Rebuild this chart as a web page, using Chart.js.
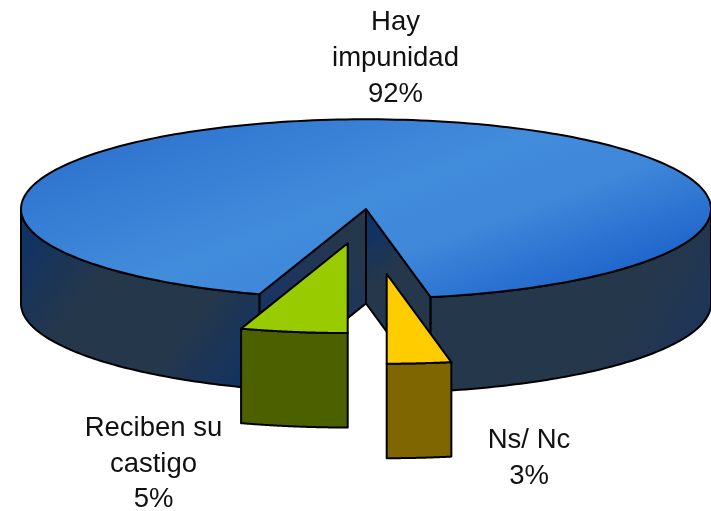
<!DOCTYPE html>
<html><head><meta charset="utf-8">
<style>html,body{margin:0;padding:0;background:#fff}canvas{display:block}</style>
<script src="https://cdn.jsdelivr.net/npm/chart.js@4"></script></head>
<body><canvas id="c" width="711" height="511"></canvas>
<script>
// Data
const categories = ['Hay impunidad', 'Ns/ Nc', 'Reciben su castigo'];
const values = [92, 3, 5];
const labelLines = [['Hay', 'impunidad', '92%'], ['Ns/ Nc', '3%'], ['Reciben su', 'castigo', '5%']];
// Styles and layout
const explodeX = [0, 20.7, -18.3];
const explodeY = [0, 250, 132];
const sideColors = [null, '#806600', '#4C6000'];
const topColors = [null, '#FFCC00', '#99CC00'];
const labelAnchors = [[395.5, 30, 36], [529, 448, 36], [153.5, 436, 35.5]];
const SQUASH = 0.26, CY = 209, DEPTH = 94.5, RADIUS = 345, LINE = 2;

const canvas = document.getElementById('c');
const g = canvas.getContext('2d');

function topGradient() {
  const slope = 0.37, H = 170, r = slope / SQUASH, s = H / (SQUASH * (r * r + 1));
  const mx = 366, my = 255.5 + (195 - CY) / SQUASH;
  const vx = s * r, vy = s;
  const gr = g.createLinearGradient(mx - vx, my - vy, mx + vx, my + vy);
  gr.addColorStop(0, '#2C71CD');
  gr.addColorStop(0.5, '#428CDC');
  gr.addColorStop(0.72, '#3E87D9');
  gr.addColorStop(1, '#2067CC');
  return gr;
}
function wallGradient(x1, y1, x2, y2, stops) {
  const gr = g.createLinearGradient(x1, y1, x2, y2);
  stops.forEach((c, i) => gr.addColorStop(i / (stops.length - 1), c));
  return gr;
}
const NAVY = '#0C3268', SLATE = '#25374B', MID = '#1B3560';

const threeD = {
  id: 'threeD',
  afterDatasetsUpdate(chart) {
    chart.getDatasetMeta(0).data.forEach((a, i) => { a.x += explodeX[i]; a.y += explodeY[i]; });
  },
  beforeDatasetsDraw(chart) {
    const ctx = chart.ctx, arcs = chart.getDatasetMeta(0).data;
    const cy0 = (chart.chartArea.top + chart.chartArea.bottom) / 2;
    const mapper = (a) => (ang, r) => [a.x + Math.cos(ang) * r, CY + (a.y - cy0 + Math.sin(ang) * r) * SQUASH];
    chart.$map = mapper;
    const side = (pts, fill) => {
      ctx.beginPath();
      pts.forEach((p, i) => i ? ctx.lineTo(p[0], p[1]) : ctx.moveTo(p[0], p[1]));
      ctx.closePath();
      ctx.fillStyle = fill; ctx.fill();
      ctx.strokeStyle = '#000'; ctx.lineWidth = LINE; ctx.lineJoin = 'round'; ctx.stroke();
    };
    const outerWall = (a, lo, hi, fill) => {
      const P = mapper(a), pts = [], R = a.outerRadius, n = 80;
      for (let i = 0; i <= n; i++) pts.push(P(lo + (hi - lo) * i / n, R));
      for (let i = n; i >= 0; i--) { const p = P(lo + (hi - lo) * i / n, R); pts.push([p[0], p[1] + DEPTH]); }
      side(pts, fill);
    };
    // main slice: radial walls seen through the gap, then its rim
    const m = arcs[0], P0 = mapper(m), c = P0(0, 0);
    const e1 = P0(m.startAngle, m.outerRadius), e2 = P0(m.endAngle, m.outerRadius);
    side([c, e1, [e1[0], e1[1] + DEPTH], [c[0], c[1] + DEPTH]],
      wallGradient(366, 250, 255, 380, [SLATE, MID, NAVY]));
    side([c, e2, [e2[0], e2[1] + DEPTH], [c[0], c[1] + DEPTH]],
      wallGradient(366, 225, 430, 310, [NAVY, SLATE, SLATE]));
    const two = Math.PI * 2;
    const s = ((m.startAngle % two) + two) % two, e = ((m.endAngle % two) + two) % two;
    outerWall(m, s, Math.PI, wallGradient(22, 215, 262, 392, [NAVY, SLATE, SLATE, NAVY]));
    outerWall(m, 0, e, wallGradient(500, 300, 705, 420, [SLATE, SLATE, '#193462']));
    // exploded slices
    [1, 2].forEach(i => {
      const a = arcs[i];
      outerWall(a, a.startAngle, a.endAngle, sideColors[i]);
    });
    ctx.save();
    ctx.translate(0, CY);
    ctx.scale(1, SQUASH);
    ctx.translate(0, -cy0);
  },
  afterDatasetsDraw(chart) {
    const ctx = chart.ctx, arcs = chart.getDatasetMeta(0).data;
    ctx.restore();
    arcs.forEach(a => {
      const P = chart.$map(a), n = 240;
      ctx.beginPath();
      const c = P(0, 0);
      ctx.moveTo(c[0], c[1]);
      for (let i = 0; i <= n; i++) {
        const p = P(a.startAngle + (a.endAngle - a.startAngle) * i / n, a.outerRadius);
        ctx.lineTo(p[0], p[1]);
      }
      ctx.closePath();
      ctx.strokeStyle = '#000'; ctx.lineWidth = LINE; ctx.lineJoin = 'round'; ctx.stroke();
    });
    ctx.fillStyle = '#111';
    ctx.font = '27.5px "Liberation Sans", Arial, sans-serif';
    ctx.textAlign = 'center'; ctx.textBaseline = 'alphabetic';
    labelLines.forEach((lines, i) => {
      const [x, y, lh] = labelAnchors[i];
      lines.forEach((t, j) => ctx.fillText(t, x, y + j * lh));
    });
  }
};

new Chart(canvas, {
  type: 'pie',
  data: {
    labels: categories,
    datasets: [{
      data: values,
      backgroundColor: [topGradient(), topColors[1], topColors[2]],
      borderWidth: 0,
      radius: RADIUS,
      rotation: 198,
      clip: false
    }]
  },
  options: {
    responsive: false,
    animation: false,
    events: [],
    layout: { padding: { left: 21 } },
    plugins: { legend: { display: false }, tooltip: { enabled: false }, title: { display: false } }
  },
  plugins: [threeD]
});
</script></body></html>
